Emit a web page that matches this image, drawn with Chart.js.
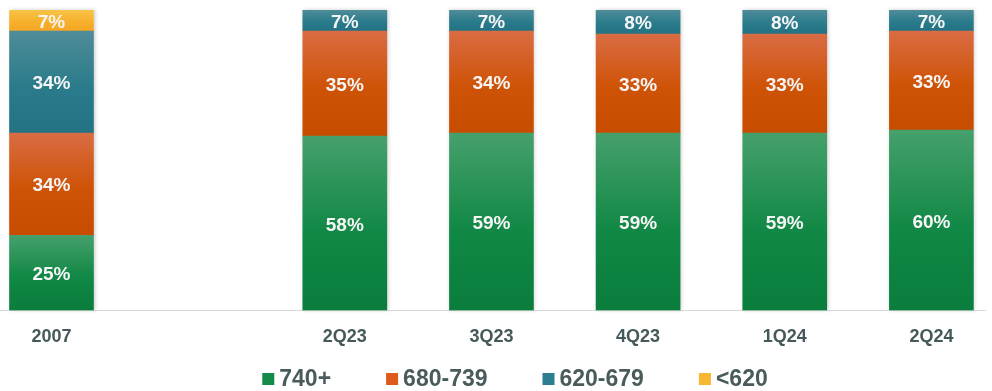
<!DOCTYPE html>
<html>
<head>
<meta charset="utf-8">
<script src="https://cdn.jsdelivr.net/npm/chart.js@4"></script>
<style>
  body { margin: 0; background: #fff; }
  canvas { display: block; }
</style>
</head>
<body>
<canvas id="myChart" width="992" height="391"></canvas>
<script>
// categories, '' is the empty slot between 2007 and 2Q23
const categories = ['2007', '', '2Q23', '3Q23', '4Q23', '1Q24', '2Q24']
const seriesNames = ['740+', '680-739', '620-679', '<620']
const s740 = [25, null, 58, 59, 59, 59, 60]
const s680 = [34, null, 35, 34, 33, 33, 33]
const s620 = [34, null, 7, 7, 8, 8, 7]
const sLow = [7, null, 0, 0, 0, 0, 0]

// [light top, base, dark bottom]
const colors = [
  ['#46a06c', '#118845', '#0a7d3c'],
  ['#d96c43', '#cf5306', '#c84c00'],
  ['#4f8c98', '#2a7b8b', '#227283'],
  ['#f8c449', '#f6b02c', '#f5a623']
]
const legendColors = ['#138a48', '#de5a1c', '#2b7f90', '#f7b731']

const allSeries = [s740, s680, s620, sLow]

function segFill(context, d) {
  const chart = context.chart
  const c = colors[d]
  if (!chart.chartArea || context.type !== 'data') return c[1]
  const i = context.dataIndex
  let start = 0
  for (let k = 0; k < d; k++) start += allSeries[k][i] || 0
  const end = start + (allSeries[d][i] || 0)
  const y = chart.scales.y
  const top = y.getPixelForValue(end)
  const bot = y.getPixelForValue(start)
  if (!isFinite(top) || !isFinite(bot) || bot - top < 1) return c[1]
  const g = chart.ctx.createLinearGradient(0, top, 0, bot)
  g.addColorStop(0, c[0])
  g.addColorStop(0.55, c[1])
  g.addColorStop(1, c[2])
  return g
}

// faint shadow behind each full stack
const stackShadow = {
  id: 'stackShadow',
  beforeDatasetsDraw(chart) {
    const ctx = chart.ctx
    const meta = chart.getDatasetMeta(0)
    ctx.save()
    ctx.shadowColor = 'rgba(0,0,0,0.22)'
    ctx.shadowBlur = 4
    ctx.shadowOffsetX = 1
    ctx.fillStyle = '#ffffff'
    meta.data.forEach((el, i) => {
      if (allSeries[0][i] == null) return
      const w = el.width
      const top = chart.scales.y.getPixelForValue(100)
      const bot = chart.scales.y.getPixelForValue(0)
      ctx.fillRect(el.x - w / 2, top, w, bot - top)
    })
    ctx.restore()
  }
}

const valueLabels = {
  id: 'valueLabels',
  afterDatasetsDraw(chart) {
    const ctx = chart.ctx
    ctx.save()
    ctx.font = 'bold 19px "Liberation Sans", Arial, sans-serif'
    ctx.fillStyle = '#f6f6f6'
    ctx.textAlign = 'center'
    ctx.textBaseline = 'middle'
    chart.data.datasets.forEach((ds, d) => {
      const meta = chart.getDatasetMeta(d)
      meta.data.forEach((el, i) => {
        const v = allSeries[d][i]
        if (!v) return
        ctx.fillText(v + '%', el.x, (el.y + el.base) / 2 + 2)
      })
    })
    ctx.restore()
  }
}

const bottomLegend = {
  id: 'bottomLegend',
  afterDraw(chart) {
    const ctx = chart.ctx
    ctx.save()
    ctx.font = 'bold 23px "Liberation Sans", Arial, sans-serif'
    ctx.textBaseline = 'middle'
    const box = 12, gap = 5, spacing = 55
    const widths = seriesNames.map(n => ctx.measureText(n).width)
    let total = 0
    widths.forEach((w, i) => { total += box + gap + w + (i < widths.length - 1 ? spacing : 0) })
    let x = 515 - total / 2
    const y = 379
    seriesNames.forEach((n, i) => {
      ctx.fillStyle = legendColors[i]
      ctx.fillRect(x, y - box / 2, box, box)
      ctx.fillStyle = '#4a5b5c'
      ctx.fillText(n, x + box + gap, y + 1)
      x += box + gap + widths[i] + spacing
    })
    ctx.restore()
  }
}

function chart() {
  const find = document.getElementById('myChart')
  const datasets = allSeries.map((arr, d) => ({
    label: seriesNames[d],
    data: arr.map((v, i) => ({ x: i, y: v })),
    backgroundColor: (context) => segFill(context, d),
    borderWidth: 0,
    barThickness: 84
  }))
  new Chart(find, {
    type: 'bar',
    data: { datasets: datasets },
    options: {
      responsive: false,
      animation: false,
      devicePixelRatio: 1,
      layout: { padding: { top: 10, right: 7, left: 0, bottom: 27 } },
      plugins: {
        legend: { display: false },
        tooltip: { enabled: false }
      },
      scales: {
        x: {
          type: 'linear',
          stacked: true,
          offset: false,
          min: -0.3512,
          max: 6.3655,
          afterBuildTicks: (scale) => {
            scale.ticks = categories
              .map((c, i) => ({ value: i, label: c }))
              .filter(t => t.label !== '')
          },
          ticks: {
            autoSkip: false,
            maxRotation: 0,
            padding: 16,
            color: '#45585a',
            font: { family: '"Liberation Sans", Arial, sans-serif', size: 18, weight: 'bold' },
            callback: (v) => categories[v]
          },
          grid: { display: false, drawTicks: false },
          border: { display: true, color: '#d9d9d9', width: 1 }
        },
        y: {
          stacked: true,
          min: 0,
          max: 100,
          display: false
        }
      }
    },
    plugins: [stackShadow, valueLabels, bottomLegend]
  })
}

window.addEventListener('DOMContentLoaded', () => {
  chart()
})
</script>
</body>
</html>
